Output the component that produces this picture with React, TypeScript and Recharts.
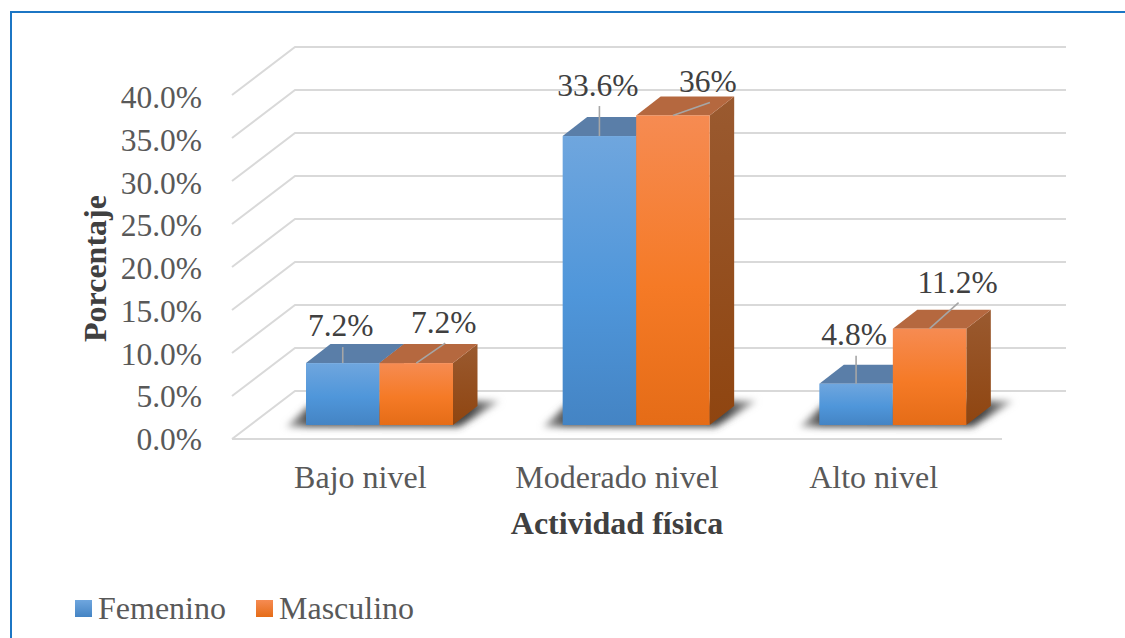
import React from "react";
import { BarChart, Bar, XAxis, YAxis, CartesianGrid, Legend, Label, LabelList } from "recharts";

const categories = ["Bajo nivel", "Moderado nivel", "Alto nivel"];
const femenino = [7.2, 33.6, 4.8];
const masculino = [7.2, 36, 11.2];
const yTicks = [0, 5, 10, 15, 20, 25, 30, 35, 40];

const rows = categories.map((nivel, i) => ({ nivel, femenino: femenino[i], masculino: masculino[i] }));

const SERIF = "'Liberation Serif', 'Times New Roman', serif";
const TEXT = "#595959";
const FONT = 31.5;

// Oblique projection of the box depth.
const DEPTH_X = 24.5;
const DEPTH_Y = 19;

// Label and leader line placement, relative to the top-centre of each bar's front face.
const femeninoCallouts = [
  { lx: 0, ly: -16, tx: -2, ty: -27 },
  { lx: 0, ly: -30, tx: -1.5, ty: -40 },
  { lx: 0, ly: -28, tx: -2, ty: -39 },
];
const masculinoCallouts = [
  { lx: 29, ly: -20, tx: 27.5, ty: -30 },
  { lx: 37, ly: -13, tx: 35, ty: -23 },
  { lx: 29, ly: -26, tx: 28, ty: -36 },
];

const box = (p: any, front: string, top: string, side: string) => {
  const { x, y, width: w, height: h } = p;
  const r = x + w;
  const b = y + h;
  return (
    <g>
      <polygon
        points={`${r},${y} ${r + DEPTH_X},${y - DEPTH_Y} ${r + DEPTH_X},${b - DEPTH_Y} ${r},${b}`}
        fill={`url(#${side})`}
      />
      <polygon points={`${x},${y} ${r},${y} ${r + DEPTH_X},${y - DEPTH_Y} ${x + DEPTH_X},${y - DEPTH_Y}`} fill={top} />
      <rect x={x} y={y} width={w} height={h} fill={`url(#${front})`} />
    </g>
  );
};

// The first series of a group also lays the soft floor shadow under the pair of boxes.
const FemeninoBox = (p: any) => {
  const { x, y, width: w, height: h } = p;
  const b = y + h;
  const r = x + w * 2;
  return (
    <g>
      <polygon
        points={`${x - 20},${b + 2} ${x + 4},${b - 20} ${r + 26},${b - 24} ${r + 47},${b - 24} ${r + 6},${b + 2}`}
        fill="url(#floorShadow)"
        filter="url(#softShadow)"
      />
      {box(p, "femFront", "#5A7EA8", "femSide")}
    </g>
  );
};

const MasculinoBox = (p: any) => box(p, "mascFront", "#B5683F", "mascSide");

const callout = (layout: typeof femeninoCallouts) => (p: any) => {
  const { x, y, width, value, index } = p;
  const c = layout[index];
  const cx = x + width / 2;
  return (
    <g>
      <line x1={cx} y1={y} x2={cx + c.lx} y2={y + c.ly} stroke="#A6A6A6" strokeWidth={1.6} />
      <text x={cx + c.tx} y={y + c.ty} textAnchor="middle" fontFamily={SERIF} fontSize={FONT} fill="#404040">
        {`${value}%`}
      </text>
    </g>
  );
};

const gridShelf = (p: any) => {
  const { x1, x2, y1, index } = p;
  const isFloor = y1 > 424;
  return (
    <g key={`shelf-${index}`}>
      <polyline
        points={`${x1 - 19},${y1 + 14} ${x1 + 44},${y1 - 34} ${x2 + 45},${y1 - 34}`}
        fill="none"
        stroke="#D9D9D9"
        strokeWidth={2}
      />
      {isFloor && <line x1={x1 - 19} y1={y1 + 14} x2={x2 - 19} y2={y1 + 14} stroke="#D9D9D9" strokeWidth={2} />}
    </g>
  );
};

const YTick = (p: any) => (
  <text x={202} y={p.y + 25 + (425 - p.y) * 0.006} textAnchor="end" fontFamily={SERIF} fontSize={FONT} fill={TEXT}>
    {`${p.payload.value.toFixed(1)}%`}
  </text>
);

const XTick = (p: any) => (
  <text x={p.payload.coordinate - 19} y={p.y + 55} textAnchor="middle" fontFamily={SERIF} fontSize={32} fill={TEXT}>
    {p.payload.value}
  </text>
);

const swatches: Record<string, string> = {
  Femenino: "linear-gradient(#6FA6DE, #4484C4)",
  Masculino: "linear-gradient(#F68B52, #E56C17)",
};

const LegendRow = (p: any) => (
  <div style={{ display: "flex", alignItems: "center", height: 40, fontFamily: SERIF, fontSize: 32, color: TEXT }}>
    {p.payload.map((e: any) => (
      <div key={e.value} style={{ display: "flex", alignItems: "center", marginRight: 30 }}>
        <span style={{ width: 17, height: 17, marginRight: 6, background: swatches[e.value] }} />
        <span>{e.value}</span>
      </div>
    ))}
  </div>
);

export default function App() {
  return (
    <div
      style={{
        position: "absolute",
        left: 0,
        top: 0,
        width: 1125,
        height: 638,
        background: "#fff",
        overflow: "hidden",
      }}
    >
      <div
        style={{
          position: "absolute",
          left: 10,
          top: 11,
          width: 1115,
          height: 627,
          boxSizing: "border-box",
          borderLeft: "2px solid #1C76C4",
          borderTop: "2px solid #1C76C4",
        }}
      />
      <BarChart
        width={1125}
        height={638}
        data={rows}
        margin={{ top: 81, right: 104, bottom: 73, left: 0 }}
        barGap={0}
        barSize={73.5}
        style={{ position: "absolute", left: 0, top: 0 }}
      >
        <defs>
          <linearGradient id="femFront" x1="0" y1="0" x2="0" y2="1">
            <stop offset="0" stopColor="#6FA6DE" />
            <stop offset="0.55" stopColor="#4F96DA" />
            <stop offset="1" stopColor="#4484C4" />
          </linearGradient>
          <linearGradient id="mascFront" x1="0" y1="0" x2="0" y2="1">
            <stop offset="0" stopColor="#F68B52" />
            <stop offset="0.55" stopColor="#F57A26" />
            <stop offset="1" stopColor="#E56C17" />
          </linearGradient>
          <linearGradient id="femSide" x1="0" y1="0" x2="0" y2="1">
            <stop offset="0" stopColor="#4F7099" />
            <stop offset="1" stopColor="#30608F" />
          </linearGradient>
          <linearGradient id="mascSide" x1="0" y1="0" x2="0" y2="1">
            <stop offset="0" stopColor="#9A5A30" />
            <stop offset="1" stopColor="#8F4510" />
          </linearGradient>
          <linearGradient id="floorShadow" x1="0" y1="0" x2="1" y2="0">
            <stop offset="0" stopColor="#BBBBBB" />
            <stop offset="0.1" stopColor="#505050" />
            <stop offset="0.86" stopColor="#444444" />
            <stop offset="1" stopColor="#BBBBBB" />
          </linearGradient>
          <filter id="softShadow" x="-20%" y="-50%" width="140%" height="200%">
            <feGaussianBlur stdDeviation="3.5" />
          </filter>
        </defs>
        <CartesianGrid horizontal={gridShelf} vertical={false} />
        <XAxis
          dataKey="nivel"
          height={100}
          axisLine={false}
          tickLine={false}
          tick={XTick}
          interval={0}
        >
          <Label
            content={(p: any) => (
              <text
                x={p.viewBox.x + p.viewBox.width / 2 - 19}
                y={p.viewBox.y + 109}
                textAnchor="middle"
                fontFamily={SERIF}
                fontSize={32}
                fontWeight="bold"
                fill="#404040"
              >
                Actividad física
              </text>
            )}
          />
        </XAxis>
        <YAxis
          width={251}
          domain={[0, 40]}
          ticks={yTicks}
          axisLine={false}
          tickLine={false}
          tick={YTick}
          interval={0}
        >
          <Label
            content={(p: any) => {
              const cy = p.viewBox.y + p.viewBox.height / 2 + 15.5;
              return (
                <text
                  x={106}
                  y={cy}
                  transform={`rotate(-90 106 ${cy})`}
                  textAnchor="middle"
                  fontFamily={SERIF}
                  fontSize={32}
                  fontWeight="bold"
                  fill="#404040"
                >
                  Porcentaje
                </text>
              );
            }}
          />
        </YAxis>
        <Legend
          content={LegendRow}
          wrapperStyle={{ position: "absolute", left: 75, top: 588, width: 500, height: 40 }}
        />
        <Bar dataKey="femenino" name="Femenino" fill="#5B9BD5" shape={FemeninoBox} isAnimationActive={false}>
          <LabelList dataKey="femenino" content={callout(femeninoCallouts)} />
        </Bar>
        <Bar dataKey="masculino" name="Masculino" fill="#ED7D31" shape={MasculinoBox} isAnimationActive={false}>
          <LabelList dataKey="masculino" content={callout(masculinoCallouts)} />
        </Bar>
      </BarChart>
    </div>
  );
}
